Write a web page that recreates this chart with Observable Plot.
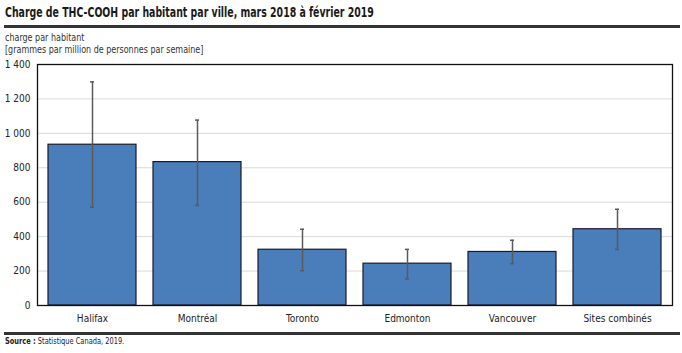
<!DOCTYPE html>
<html><head><meta charset="utf-8">
<script src="https://cdn.jsdelivr.net/npm/d3@7"></script>
<script src="https://cdn.jsdelivr.net/npm/@observablehq/plot@0.6"></script>
<style>
body{margin:0;background:#fff;width:682px;height:353px;position:relative;overflow:hidden;font-family:"DejaVu Sans Condensed","Liberation Sans Narrow",sans-serif;color:#222;}
#title{position:absolute;left:5px;top:4px;font-size:14px;font-weight:bold;color:#1a1a1a;white-space:nowrap;transform:scaleX(0.745);transform-origin:left top;}
.rule{position:absolute;left:4px;width:676px;height:3px;background:#333;}
#sub{position:absolute;left:5px;top:32px;font-size:10px;line-height:11.5px;color:#333;white-space:nowrap;transform:scaleX(0.89);transform-origin:left top;}
#chart{position:absolute;left:0;top:55px;}
#src{position:absolute;left:5px;top:336px;font-size:9px;color:#222;white-space:nowrap;transform:scaleX(0.82);transform-origin:left top;}
</style></head>
<body>
<div id="title">Charge de THC-COOH par habitant par ville, mars 2018 à février 2019</div>
<div class="rule" style="top:25px"></div>
<div id="sub">charge par habitant<br>[grammes par million de personnes par semaine]</div>
<div id="chart"></div>
<div class="rule" style="top:332px"></div>
<div id="src"><b>Source :</b> Statistique Canada, 2019.</div>
<script>
const villes = ["Halifax","Montréal","Toronto","Edmonton","Vancouver","Sites combinés"];
const charge = [934, 833, 324, 243, 311, 443];
const basse = [571, 581, 202, 154, 243, 326];
const haute = [1299, 1077, 443, 326, 379, 559];
const yTicks = [0, 200, 400, 600, 800, 1000, 1200, 1400];

const data = villes.map((v, i) => ({ville: v, charge: charge[i], basse: basse[i], haute: haute[i]}));
const fmt = d => d3.format(",")(d).replace(/,/g, " ");

const chart = Plot.plot({
  width: 682,
  height: 275,
  marginTop: 9,
  marginLeft: 37,
  marginRight: 10,
  marginBottom: 25,
  style: {fontFamily: '"DejaVu Sans Condensed",sans-serif', fontSize: "10px", color: "#222", background: "white"},
  x: {domain: villes, paddingInner: 0.16, paddingOuter: 0.08, label: null, tickSize: 0, tickPadding: 9},
  y: {domain: [0, 1400], ticks: yTicks, tickFormat: fmt, label: null, tickSize: 0, tickPadding: 7},
  marks: [
    Plot.gridY(yTicks, {stroke: "#d9d9d9", strokeOpacity: 1, strokeWidth: 1}),
    Plot.barY(data, {x: "ville", y: "charge", fill: "#4a7ebb", stroke: "#1a1a2a", strokeWidth: 1.2}),
    Plot.ruleX(data, {x: "ville", y1: "basse", y2: "haute", stroke: "#5a5a5a", strokeWidth: 1.5}),
    Plot.tickY(data, {x: "ville", y: "haute", stroke: "#5a5a5a", strokeWidth: 1.5, insetLeft: 42, insetRight: 42}),
    Plot.tickY(data, {x: "ville", y: "basse", stroke: "#5a5a5a", strokeWidth: 1.5, insetLeft: 42, insetRight: 42}),
    Plot.frame({stroke: "#111", strokeWidth: 1.3})
  ]
});
document.getElementById("chart").appendChild(chart);
</script>
</body></html>
